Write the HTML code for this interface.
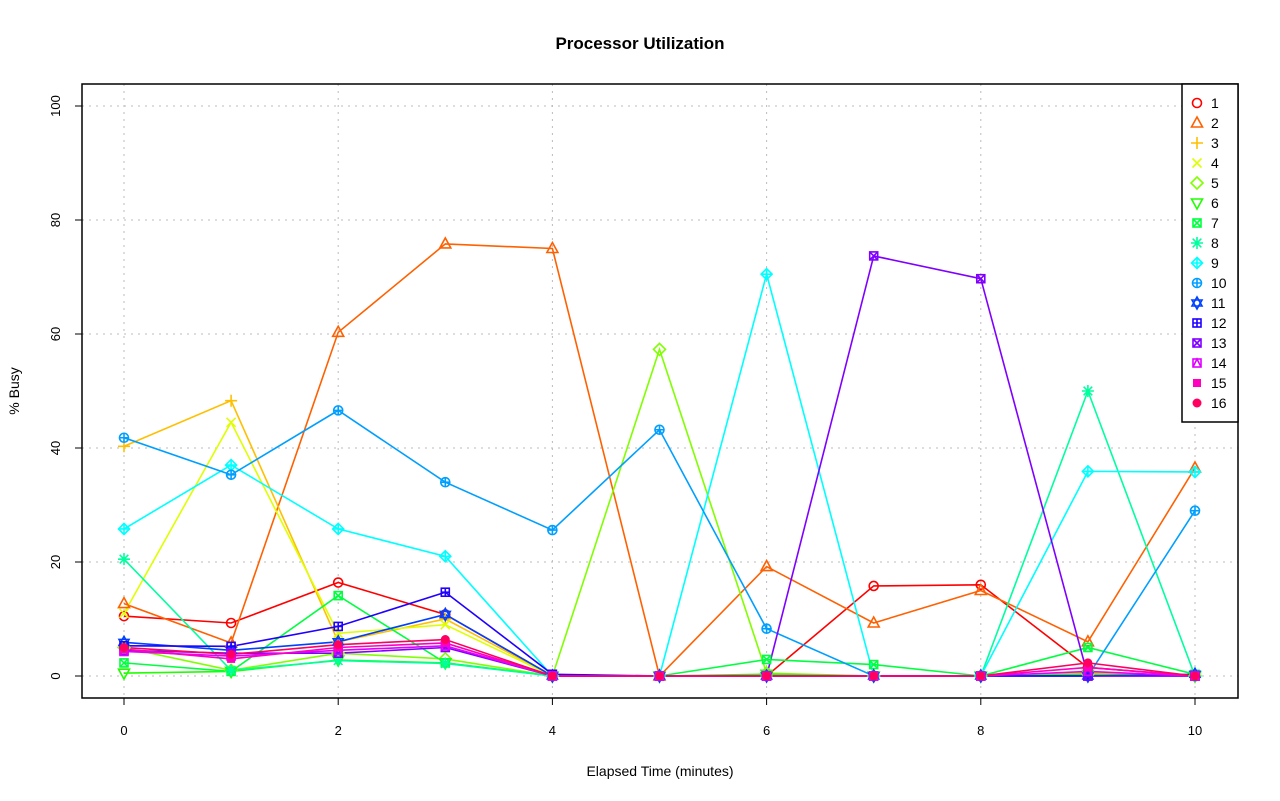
<!DOCTYPE html>
<html><head><meta charset="utf-8"><style>body{margin:0;background:#fff}svg{display:block;font-family:"Liberation Sans",sans-serif}</style></head>
<body>
<svg id="s" width="1280" height="801" xmlns="http://www.w3.org/2000/svg"></svg>
<script>
const S=document.getElementById('s');let h='';
const X=v=>124+v*107.1, Y=v=>676-v*5.7;
h+='<text x="640" y="49" text-anchor="middle" font-size="17" font-weight="bold">Processor Utilization</text>';
h+='<text x="660" y="776" text-anchor="middle" font-size="14">Elapsed Time (minutes)</text>';
h+='<text transform="translate(19,391) rotate(-90)" text-anchor="middle" font-size="14">% Busy</text>';
for(let i=0;i<=10;i+=2){h+=`<line x1="${X(i)}" y1="84" x2="${X(i)}" y2="698" stroke="#bbb" stroke-dasharray="2,5"/>`;
h+=`<line x1="${X(i)}" y1="698" x2="${X(i)}" y2="705" stroke="#000"/><text x="${X(i)}" y="735" text-anchor="middle" font-size="13">${i}</text>`;}
for(let v=0;v<=100;v+=20){h+=`<line x1="82" y1="${Y(v)}" x2="1238" y2="${Y(v)}" stroke="#bbb" stroke-dasharray="2,5"/>`;
h+=`<line x1="75" y1="${Y(v)}" x2="82" y2="${Y(v)}" stroke="#000"/><text transform="translate(60,${Y(v)}) rotate(-90)" text-anchor="middle" font-size="13">${v}</text>`;}
const C=['#FF0000','#FF6000','#FFBF00','#DFFF00','#80FF00','#20FF00','#00FF40','#00FF9F','#00FFFF','#009FFF','#0040FF','#2000FF','#8000FF','#DF00FF','#FF00BF','#FF0060'];
const D=[
[10.5,9.3,16.4,10.8,0,0,0,15.8,16,1.5,0],
[12.7,5.8,60.3,75.8,75,0,19.2,9.3,15,6,36.5],
[40.3,48.3,6,10,0,0,0,0,0,0.5,0],
[11,44.5,7.5,9,0,0,0,0,0,0.3,0],
[5,1,4,3,0,57.3,0.5,0,0,0.3,0],
[0.5,0.8,2.8,2.3,0,0,0.3,0,0,0.3,0],
[2.3,0.8,14.1,2.3,0,0,2.9,2,0,5,0.3],
[20.5,1,2.7,2.2,0,0,0,0,0,50,0],
[25.8,37,25.8,21,0,0,70.5,0,0,35.9,35.8],
[41.8,35.3,46.6,34,25.6,43.2,8.3,0,0,0,29],
[5.9,4.5,6,10.8,0,0,0,0,0,0,0.3],
[5.3,5.2,8.7,14.7,0.3,0,0,0,0,0,0],
[4.5,4,4,5,0,0,0,73.7,69.7,0,0],
[4.3,3.5,4.5,5.3,0,0,0,0,0,0.8,0],
[4.7,3,5,5.8,0,0,0,0,0,1.5,0],
[5,3.8,5.5,6.4,0,0,0,0,0,2.3,0]];
function M(k,x,y,c){const r=4.5,a=`stroke="${c}" stroke-width="1.6" fill="none"`;
switch(k){
case 0:return `<circle cx="${x}" cy="${y}" r="${r}" ${a}/>`;
case 1:return `<polygon points="${x},${y-6} ${x+5.5},${y+4} ${x-5.5},${y+4}" ${a}/>`;
case 2:return `<path d="M${x-6} ${y}H${x+6}M${x} ${y-6}V${y+6}" ${a}/>`;
case 3:return `<path d="M${x-4.5} ${y-4.5}L${x+4.5} ${y+4.5}M${x-4.5} ${y+4.5}L${x+4.5} ${y-4.5}" ${a}/>`;
case 4:return `<polygon points="${x},${y-6} ${x+6},${y} ${x},${y+6} ${x-6},${y}" ${a}/>`;
case 5:return `<polygon points="${x},${y+6} ${x+5.5},${y-4} ${x-5.5},${y-4}" ${a}/>`;
case 6:return `<rect x="${x-4}" y="${y-4}" width="8" height="8" ${a}/><path d="M${x-4} ${y-4}L${x+4} ${y+4}M${x-4} ${y+4}L${x+4} ${y-4}" ${a}/>`;
case 7:return `<path d="M${x-6} ${y}H${x+6}M${x} ${y-6}V${y+6}M${x-4.3} ${y-4.3}L${x+4.3} ${y+4.3}M${x-4.3} ${y+4.3}L${x+4.3} ${y-4.3}" ${a}/>`;
case 8:return `<polygon points="${x},${y-5.5} ${x+5.5},${y} ${x},${y+5.5} ${x-5.5},${y}" ${a}/><path d="M${x-5.5} ${y}H${x+5.5}M${x} ${y-5.5}V${y+5.5}" ${a}/>`;
case 9:return `<circle cx="${x}" cy="${y}" r="${r}" ${a}/><path d="M${x-4.5} ${y}H${x+4.5}M${x} ${y-4.5}V${y+4.5}" ${a}/>`;
case 10:return `<polygon points="${x},${y-6} ${x+5},${y+3} ${x-5},${y+3}" ${a}/><polygon points="${x},${y+6} ${x+5},${y-3} ${x-5},${y-3}" ${a}/>`;
case 11:return `<rect x="${x-4}" y="${y-4}" width="8" height="8" ${a}/><path d="M${x-4} ${y}H${x+4}M${x} ${y-4}V${y+4}" ${a}/>`;
case 12:return `<rect x="${x-4}" y="${y-4}" width="8" height="8" ${a}/><path d="M${x-4} ${y-4}L${x+4} ${y+4}M${x-4} ${y+4}L${x+4} ${y-4}" ${a}/>`;
case 13:return `<rect x="${x-4}" y="${y-4}" width="8" height="8" ${a}/><path d="M${x-4} ${y+4}L${x} ${y-4}L${x+4} ${y+4}" ${a}/>`;
case 14:return `<rect x="${x-4}" y="${y-4}" width="8" height="8" fill="${c}"/>`;
default:return `<circle cx="${x}" cy="${y}" r="4.5" fill="${c}"/>`;}}
D.forEach((d,k)=>{h+=`<polyline fill="none" stroke="${C[k]}" stroke-width="1.6" points="${d.map((v,i)=>X(i)+','+Y(v)).join(' ')}"/>`;});
D.forEach((d,k)=>{d.forEach((v,i)=>{h+=M(k,X(i),Y(v),C[k]);});});
h+='<rect x="82" y="84" width="1156" height="614" fill="none" stroke="#000" stroke-width="1.5"/>';
h+='<rect x="1182" y="84" width="56" height="338" fill="#fff" stroke="#000" stroke-width="1.5"/>';
for(let k=0;k<16;k++){const y=103+k*20;h+=M(k,1197,y,C[k]);h+=`<text x="1211" y="${y+5}" font-size="14">${k+1}</text>`;}
S.innerHTML=h;
</script>
</body></html>
